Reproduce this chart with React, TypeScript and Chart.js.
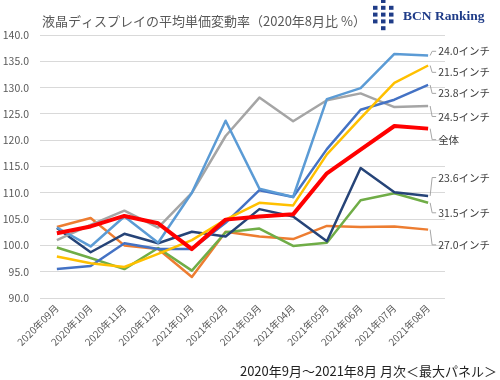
import React, { useEffect, useRef } from "react";
import { Chart, registerables } from "chart.js";

Chart.register(...registerables);

const categories = [
  "2020年09月", "2020年10月", "2020年11月", "2020年12月",
  "2021年01月", "2021年02月", "2021年03月", "2021年04月",
  "2021年05月", "2021年06月", "2021年07月", "2021年08月",
];

const overall = [102.3, 103.6, 105.6, 104.2, 99.3, 104.9, 105.5, 105.9, 113.7, 118.2, 122.7, 122.2];
const in240 = [103.4, 99.8, 105.5, 100.5, 110.0, 123.7, 110.8, 109.2, 127.8, 129.9, 136.4, 136.1];
const in215 = [97.9, 96.6, 95.9, 98.4, 101.0, 104.9, 108.1, 107.6, 117.3, 124.2, 130.9, 134.2];
const in238 = [95.5, 96.1, 100.4, 99.3, 99.3, 104.3, 110.5, 109.2, 118.3, 125.8, 127.7, 130.5];
const in245 = [101.0, 103.9, 106.6, 103.4, 110.0, 120.8, 128.1, 123.6, 127.6, 128.9, 126.3, 126.5];
const in236 = [103.3, 98.7, 102.2, 100.4, 102.6, 101.7, 106.9, 105.5, 100.8, 114.7, 110.1, 109.4];
const in315 = [99.6, 97.6, 95.5, 99.5, 95.2, 102.5, 103.2, 99.9, 100.5, 108.6, 109.9, 108.1];
const in270 = [103.5, 105.2, 100.0, 99.3, 94.0, 102.6, 101.7, 101.2, 103.7, 103.5, 103.6, 103.0];

const seriesNames = ["全体", "24.0インチ", "21.5インチ", "23.8インチ", "24.5インチ", "23.6インチ", "31.5インチ", "27.0インチ"];
// y value (in axis units) where each end label sits
const labelValues = [120.1, 136.9, 132.9, 128.9, 124.5, 112.9, 106.2, 100.1];
const yTicks = [90, 95, 100, 105, 110, 115, 120, 125, 130, 135, 140];

const titleText = "液晶ディスプレイの平均単価変動率（2020年8月比 %）";
const xTitleText = "2020年9月～2021年8月 月次＜最大パネル＞";
const brandText = "BCN Ranking";

const FONT = "'Noto Sans CJK JP', 'Noto Sans', sans-serif";

const colors = ["#FF0000", "#5B9BD5", "#FFC000", "#4472C4", "#A5A5A5", "#264478", "#70AD47", "#ED7D31"];
const widths = [4, 2.5, 2.5, 2.5, 2.5, 2.5, 2.5, 2.5];

const decorPlugin = {
  id: "decor",
  afterDraw(chart: any) {
    const ctx = chart.ctx;
    const yScale = chart.scales.y;
    ctx.save();
    // title
    ctx.fillStyle = "#595959";
    ctx.font = `13px ${FONT}`;
    ctx.textAlign = "left";
    ctx.textBaseline = "middle";
    ctx.fillText(titleText, 42, 21);
    // logo squares
    ctx.fillStyle = "#1F3C88";
    const cols = [373, 381, 389];
    for (let r = 0; r < 5; r++) {
      const y = r * 6.8 - 1;
      cols.forEach((cx, ci) => {
        if (ci !== 1 && (r === 0 || r === 4)) return;
        ctx.fillRect(cx, y, 4.5, 4);
      });
    }
    ctx.font = "bold 13.5px 'Liberation Serif', 'DejaVu Serif', serif";
    ctx.fillStyle = "#1F3C88";
    ctx.textBaseline = "middle";
    ctx.fillText(brandText, 403, 17);
    // bottom title
    ctx.fillStyle = "#222222";
    ctx.font = `13px ${FONT}`;
    ctx.textAlign = "right";
    ctx.fillText(xTitleText, 497, 371);
    // end labels with leader lines
    chart.data.datasets.forEach((ds: any, i: number) => {
      const meta = chart.getDatasetMeta(i);
      const last = meta.data[meta.data.length - 1];
      if (!last) return;
      const xe = last.x;
      const ye = last.y;
      const ly = yScale.getPixelForValue(labelValues[i]);
      ctx.strokeStyle = "#A6A6A6";
      ctx.lineWidth = 1;
      ctx.beginPath();
      ctx.moveTo(xe + 2, ye);
      ctx.lineTo(xe + 4, ly);
      ctx.lineTo(xe + 8, ly);
      ctx.stroke();
      ctx.fillStyle = "#404040";
      ctx.font = `10.5px ${FONT}`;
      ctx.textAlign = "left";
      ctx.textBaseline = "middle";
      ctx.fillText(seriesNames[i], xe + 10, ly);
    });
    ctx.restore();
  },
};

export default function App() {
  const ref = useRef<HTMLCanvasElement | null>(null);
  useEffect(() => {
    if (!ref.current) return;
    const all = [overall, in240, in215, in238, in245, in236, in315, in270];
    const chart = new Chart(ref.current, {
      type: "line",
      data: {
        labels: categories,
        datasets: all.map((d, i) => ({
          label: seriesNames[i],
          data: d,
          borderColor: colors[i],
          backgroundColor: colors[i],
          borderWidth: widths[i],
          pointRadius: 0,
          tension: 0,
          fill: false,
          borderJoinStyle: "round" as const,
        })),
      },
      options: {
        responsive: false,
        animation: false,
        layout: { padding: { top: 35, right: 55, left: 0, bottom: 0 } },
        plugins: { legend: { display: false }, tooltip: { enabled: false }, title: { display: false } },
        scales: {
          x: {
            offset: true,
            grid: { display: false, drawTicks: false },
            border: { display: false },
            ticks: {
              minRotation: 45,
              maxRotation: 45,
              autoSkip: false,
              padding: 4,
              color: "#595959",
              font: { family: FONT, size: 10 },
            },
            afterFit: (s: any) => { s.height = 82; },
          },
          y: {
            min: 90,
            max: 140,
            afterBuildTicks: (s: any) => { s.ticks = yTicks.map((v) => ({ value: v })); },
            grid: { color: "#D9D9D9", lineWidth: 1, drawTicks: false },
            border: { display: false },
            ticks: {
              padding: 11,
              color: "#595959",
              font: { family: FONT, size: 10.5 },
              callback: (v: any) => Number(v).toFixed(1),
            },
            afterFit: (s: any) => { s.width = 40; },
          },
        },
      },
      plugins: [decorPlugin],
    });
    return () => chart.destroy();
  }, []);
  return (
    <div style={{ position: "absolute", left: 0, top: 0, width: 500, height: 380, background: "#fff" }}>
      <canvas ref={ref} width={500} height={380} style={{ width: 500, height: 380 }} />
    </div>
  );
}
